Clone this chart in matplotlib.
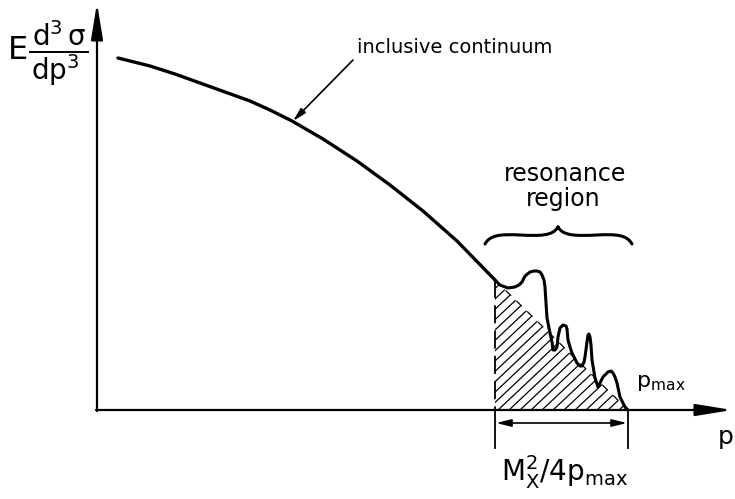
import numpy as np
import matplotlib.pyplot as plt
from matplotlib.patches import Polygon, PathPatch
from matplotlib.path import Path

plt.rcParams['font.family'] = ['DejaVu Sans']
plt.rcParams['mathtext.fontset'] = 'dejavusans'
plt.rcParams['mathtext.default'] = 'regular'

# inclusive continuum (pixel-like units, y grows downward)
cont_x = [118, 150, 175, 200, 225, 250, 270, 292, 323, 357, 390, 423, 457, 495]
cont_y = [58, 66, 74, 83, 92, 101, 110, 121, 139, 161, 185, 211, 241, 280]

# resonance wiggles
res_x = [495, 500, 508, 515, 519, 522, 525, 530, 534, 537, 540, 542, 544, 545, 546, 547, 549,
         552, 553, 555, 557, 558, 560, 563, 566, 567, 568, 570, 572, 577, 580, 582, 584, 585,
         587, 588, 589, 590, 591, 592, 595, 598, 600, 603, 608, 611, 613, 615, 617, 620, 625, 628]
res_y = [280, 285, 288, 287, 285, 282, 276, 272, 271, 271, 272, 275, 280, 287, 303, 318, 328,
         342, 350, 350, 347, 337, 328, 325, 326, 329, 340, 347, 353, 363, 366, 366, 362, 357,
         342, 335, 334, 337, 345, 360, 378, 387, 383, 377, 372, 371, 373, 377, 383, 397, 407, 410]

x0, y_base = 97, 410       # origin of the axes
p_res, p_max = 495, 628    # start of resonance region, kinematic limit
y_top, x_right = 3, 732

fig = plt.figure(figsize=(7.35, 4.99), dpi=100)
ax = fig.add_axes([0, 0, 1, 1])
ax.set_xlim(0, 735)
ax.set_ylim(499, 0)
ax.axis('off')

# axes with arrows
head = '-|>,head_length=2.2,head_width=0.36'
ax.annotate('', xy=(x0, y_top), xytext=(x0, y_base + 1),
            arrowprops=dict(arrowstyle=head, lw=1.6, color='black', shrinkA=0, shrinkB=0))
ax.annotate('', xy=(x_right, y_base), xytext=(x0 - 1, y_base),
            arrowprops=dict(arrowstyle=head, lw=1.6, color='black', shrinkA=0, shrinkB=0))

# hatched triangle
tri = Polygon([[p_res, cont_y[-1]], [p_res, y_base], [p_max, y_base]], closed=True,
              facecolor='none', edgecolor='none')
ax.add_patch(tri)
for c in np.arange(p_res - 140, p_max + 10, 11):
    ln, = ax.plot([c, c + 170], [y_base, y_base - 160], color='black', lw=0.9)
    ln.set_clip_path(tri)

# hypotenuse (hidden under resonances) and continuum curve
ax.plot([p_res, p_max], [cont_y[-1], y_base], color='black', lw=0.9, dashes=(6, 6))
ax.plot(cont_x, cont_y, color='black', lw=2.4, solid_capstyle='round', solid_joinstyle='round')
ax.plot(res_x, res_y, color='black', lw=2.2, solid_joinstyle='round', solid_capstyle='round')

# dashed left edge and ticks
ax.plot([p_res, p_res], [cont_y[-1], y_base], color='black', lw=1.3, dashes=(10, 4))
ax.plot([p_res, p_res], [y_base, 448], color='black', lw=1.3)
ax.plot([p_max, p_max], [y_base, 448], color='black', lw=1.3)
ax.annotate('', xy=(p_res + 1, 423), xytext=(p_max - 1, 423),
            arrowprops=dict(arrowstyle='<|-|>,head_length=0.9,head_width=0.22', lw=1.2,
                            color='black', shrinkA=0, shrinkB=0))

# brace over resonance region
bl, br, bc, by = 485, 632, 558, 244
verts = [(bl, by), (bl + 5, by - 9), (bl + 15, by - 10), (bl + 35, by - 9),
         (bc - 18, by - 8), (bc - 5, by - 8), (bc, by - 17),
         (br, by), (br - 5, by - 9), (br - 15, by - 10), (br - 35, by - 9),
         (bc + 18, by - 8), (bc + 5, by - 8), (bc, by - 17)]
codes = [Path.MOVETO, Path.CURVE4, Path.CURVE4, Path.CURVE4,
         Path.CURVE4, Path.CURVE4, Path.CURVE4] * 2
ax.add_patch(PathPatch(Path(verts, codes), facecolor='none', edgecolor='black', lw=2.2,
                       capstyle='round'))

# labels
ax.text(357, 47, 'inclusive continuum', fontsize=14, ha='left', va='center')
ax.annotate('', xy=(293, 121), xytext=(353, 60),
            arrowprops=dict(arrowstyle='-|>,head_length=0.8,head_width=0.2', lw=1.2,
                            color='black', shrinkA=0, shrinkB=0))
ax.text(565, 174, 'resonance', fontsize=17, ha='center', va='center')
ax.text(563, 199, 'region', fontsize=17, ha='center', va='center')
ax.text(636, 383, r'$p_{max}$', fontsize=16, ha='left', va='center')
ax.text(734, 437, 'p', fontsize=18, ha='right', va='center')
ax.text(564, 472, r'$M_X^2/4p_{max}$', fontsize=20, ha='center', va='center')

# y label: E d^3sigma / dp^3
ax.text(8, 50, 'E', fontsize=23, ha='left', va='center')
ax.text(59, 37, r'$d^3\,\sigma$', fontsize=20, ha='center', va='center')
ax.plot([30, 88], [52, 52], color='black', lw=1.4)
ax.text(55, 70, r'$dp^3$', fontsize=20, ha='center', va='center')

fig.savefig('out.png', dpi=100)
